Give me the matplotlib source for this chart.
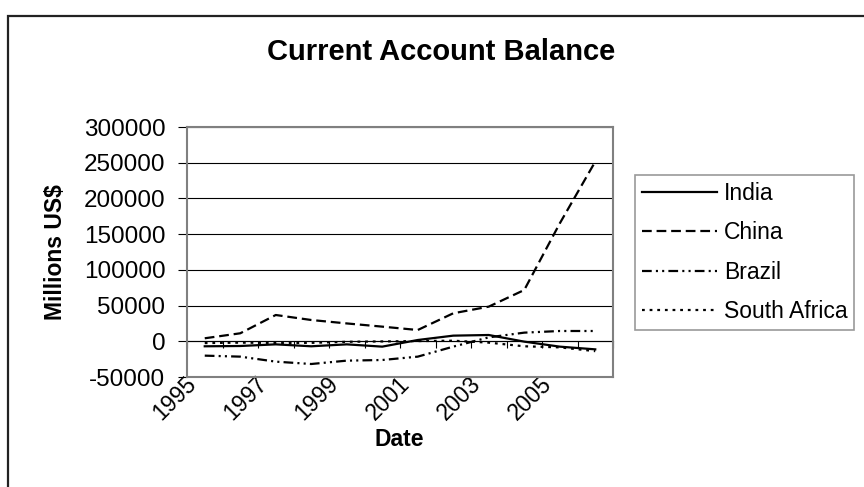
import matplotlib
matplotlib.use('Agg')
import matplotlib.pyplot as plt
from matplotlib.patches import Rectangle
from matplotlib.transforms import ScaledTranslation

plt.rcParams['font.family'] = ['Liberation Sans', 'DejaVu Sans']
plt.rcParams['lines.scale_dashes'] = False

# Data (millions US$)
years = [1995, 1996, 1997, 1998, 1999, 2000, 2001, 2002, 2003, 2004, 2005, 2006]
india = [-7000, -6600, -4300, -7000, -4300, -7500, 1800, 7900, 8800, -500, -7500, -11300]
china = [4200, 11200, 36800, 29800, 25000, 20500, 15800, 39200, 48500, 71800, 165000, 251500]
brazil = [-20100, -21500, -28500, -31800, -27100, -26200, -21500, -7500, 5500, 12100, 14400, 14400]
south_africa = [-2500, -1900, -2300, -2200, -700, -200, 300, 800, -1900, -7000, -8500, -13800]
y_ticks = [-50000, 0, 50000, 100000, 150000, 200000, 250000, 300000]

W, H = 864, 487
fig = plt.figure(figsize=(W / 100, H / 100), dpi=100)

# outer chart border (runs off the right and bottom edges)
fig.patches.append(Rectangle((7.5 / W, -0.1), 1.2, 1.1 - 16 / H,
                             transform=fig.transFigure, fill=False,
                             edgecolor='#222222', linewidth=1.6, clip_on=False))

ax = fig.add_axes([187 / W, 1 - 377 / H, (613 - 187) / W, 250 / H])
x = list(range(len(years)))

ax.plot(x, india, color='black', linewidth=1.6, linestyle='-', label='India')
ax.plot(x, china, color='black', linewidth=1.6, linestyle=(0, (7, 3.5)), label='China')
ax.plot(x, brazil, color='black', linewidth=1.6, linestyle=(0, (7, 3, 1.5, 3, 1.5, 3)), label='Brazil')
ax.plot(x, south_africa, color='black', linewidth=1.6, linestyle=(0, (2, 3.5)), label='South Africa')

ax.set_xlim(-0.5, len(years) - 0.5)
ax.set_ylim(-50000, 300000)
ax.set_yticks(y_ticks)
ax.set_yticklabels([str(v) for v in y_ticks], fontsize=17.5)
ax.yaxis.grid(True, color='black', linewidth=0.8)
ax.set_axisbelow(True)
ax.tick_params(axis='y', length=6.5, width=0.8, pad=9, color='black')

ax.set_xticks(x[::2])
ax.set_xticklabels([str(y) for y in years[::2]], fontsize=16.5, rotation=45,
                   ha='right', va='top', rotation_mode='anchor')
ax.tick_params(axis='x', length=0, pad=-3.6)
shift = ScaledTranslation(-20 / 100, 0, fig.dpi_scale_trans)
for lab in ax.get_xticklabels():
    lab.set_transform(lab.get_transform() + shift)

for s in ax.spines.values():
    s.set_color('#808080')
    s.set_linewidth(1.5)

# category axis crossing at zero with tick marks between categories
zero_frac = 50000 / 350000
sec = ax.secondary_xaxis(zero_frac)
sec.set_xticks([i - 0.5 for i in range(len(years) + 1)])
sec.set_xticklabels([])
sec.tick_params(axis='x', direction='out', length=5, width=0.8, color='black')
sec.spines['bottom'].set_color('black')
sec.spines['bottom'].set_linewidth(0.8)

fig.text(441 / W, 1 - 52 / H, 'Current Account Balance', fontsize=21,
         fontweight='bold', ha='center', va='center')
fig.text(55 / W, 1 - 252 / H, 'Millions US$', fontsize=16.5, fontweight='bold',
         rotation=90, ha='center', va='center')
fig.text(399 / W, 1 - 440 / H, 'Date', fontsize=16.5, fontweight='bold',
         ha='center', va='center')

leg = fig.legend(loc='upper left', bbox_to_anchor=(635 / W, 1 - 175 / H),
                 fontsize=16.5, handlelength=3.27, handletextpad=0.3,
                 labelspacing=0.72, borderpad=0.3, borderaxespad=0,
                 fancybox=False, frameon=True)
leg.get_frame().set_edgecolor('#808080')
leg.get_frame().set_linewidth(1.2)

fig.savefig('out.png', dpi=100)
